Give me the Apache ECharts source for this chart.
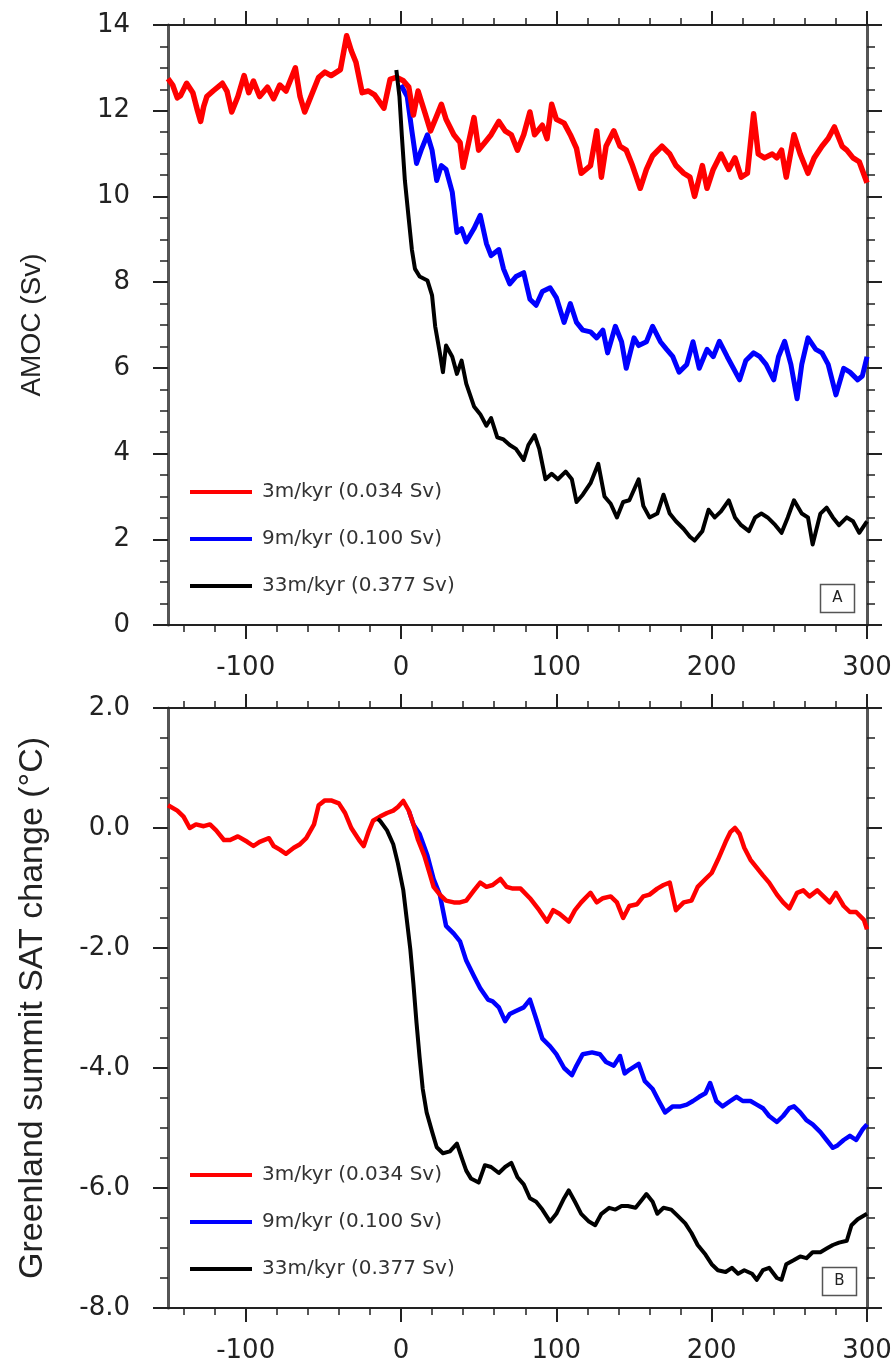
<!DOCTYPE html>
<html>
<head>
<meta charset="utf-8">
<script src="https://cdn.jsdelivr.net/npm/echarts@6/dist/echarts.min.js"></script>
<style>html,body{margin:0;padding:0;background:#fff}#c{width:896px;height:1367px}</style>
</head>
<body>
<div id="c"></div>
<script>
// ---------- data ----------
const seriesNames = ['3m/kyr (0.034 Sv)', '9m/kyr (0.100 Sv)', '33m/kyr (0.377 Sv)'];
const xMajorTicks = [-100, 0, 100, 200, 300];
const xMinorTicks = [-140,-120,-80,-60,-40,-20,20,40,60,80,120,140,160,180,220,240,260,280];

// Panel A: AMOC (Sv)  [year, value]
const amoc3 = [[-150,12.75],[-147,12.6],[-144,12.3],[-142,12.35],[-138,12.64],[-134,12.42],[-131,12.0],[-129,11.75],[-127,12.1],[-125,12.33],[-121,12.46],[-115,12.64],[-112,12.45],[-109,11.97],[-105,12.33],[-101,12.82],[-98,12.42],[-95,12.69],[-91,12.33],[-86,12.55],[-82,12.28],[-78,12.6],[-74,12.46],[-68,13.0],[-65,12.33],[-62,11.97],[-58,12.33],[-53,12.78],[-49,12.9],[-45,12.82],[-39,12.96],[-35,13.75],[-32,13.4],[-29,13.13],[-25,12.42],[-21,12.46],[-17,12.37],[-11,12.06],[-7,12.73],[-3,12.78],[1.5,12.7],[5,12.55],[8,11.9],[11,12.46],[15,12.0],[19,11.53],[23,11.88],[26,12.15],[29,11.8],[34,11.44],[38,11.26],[40,10.68],[43,11.17],[47,11.84],[50,11.08],[54,11.26],[58,11.44],[63,11.75],[67,11.53],[71,11.44],[75,11.08],[79,11.44],[83,11.97],[86,11.44],[91,11.66],[94,11.35],[97,12.15],[100,11.8],[105,11.71],[109,11.44],[113,11.12],[116,10.54],[122,10.72],[126,11.53],[129,10.45],[132,11.17],[137,11.53],[141,11.17],[145,11.08],[149,10.72],[154,10.19],[158,10.63],[162,10.95],[168,11.17],[173,10.99],[177,10.72],[182,10.54],[186,10.45],[189,10.0],[194,10.72],[197,10.19],[201,10.63],[206,10.99],[211,10.63],[215,10.9],[219,10.45],[223,10.54],[227,11.93],[230,10.99],[234,10.9],[239,10.99],[242,10.9],[245,11.08],[248,10.45],[253,11.44],[257,10.99],[262,10.54],[266,10.9],[271,11.17],[275,11.35],[279,11.62],[284,11.17],[287,11.08],[291,10.9],[295,10.81],[300,10.32]];
const amoc9 = [[0,12.6],[4,12.33],[7,11.53],[10,10.77],[13,11.08],[17,11.44],[20,11.08],[23,10.37],[26,10.72],[29,10.63],[33,10.1],[36,9.16],[39,9.25],[42,8.94],[47,9.25],[51,9.56],[55,8.9],[58,8.62],[63,8.76],[66,8.31],[70,7.96],[74,8.13],[79,8.22],[83,7.6],[87,7.46],[91,7.78],[96,7.87],[100,7.64],[105,7.06],[109,7.5],[113,7.06],[117,6.88],[122,6.84],[126,6.7],[130,6.88],[133,6.35],[138,6.97],[142,6.61],[145,5.99],[150,6.7],[153,6.52],[158,6.61],[162,6.97],[167,6.61],[171,6.43],[175,6.26],[179,5.9],[184,6.08],[188,6.61],[192,5.99],[197,6.43],[201,6.26],[205,6.62],[210,6.26],[214,5.99],[218,5.72],[222,6.17],[227,6.35],[231,6.26],[235,6.08],[240,5.72],[243,6.26],[247,6.62],[251,6.08],[255,5.28],[258,6.08],[262,6.7],[267,6.43],[271,6.35],[275,6.08],[280,5.37],[285,5.99],[289,5.9],[294,5.72],[297,5.81],[300,6.26]];
const amoc33 = [[-3,12.95],[-1,12.33],[0.5,11.44],[2.5,10.37],[5,9.47],[7,8.76],[9,8.31],[12,8.13],[17,8.04],[20,7.69],[22,6.97],[25,6.35],[27,5.9],[29,6.52],[33,6.26],[36,5.86],[39,6.17],[42,5.63],[47,5.1],[51,4.92],[55,4.65],[58,4.83],[62,4.38],[66,4.33],[70,4.2],[74,4.11],[79,3.85],[82,4.2],[86,4.43],[89,4.11],[93,3.4],[97,3.53],[101,3.4],[106,3.58],[110,3.4],[113,2.87],[117,3.04],[122,3.31],[127,3.76],[131,3.0],[135,2.83],[139,2.51],[143,2.87],[147,2.91],[153,3.4],[156,2.78],[160,2.51],[165,2.6],[169,3.04],[173,2.6],[177,2.42],[182,2.24],[186,2.06],[189,1.97],[194,2.19],[198,2.69],[202,2.51],[206,2.65],[211,2.91],[215,2.51],[219,2.33],[224,2.19],[228,2.51],[232,2.6],[236,2.51],[241,2.33],[245,2.15],[249,2.51],[253,2.91],[258,2.6],[262,2.51],[265,1.88],[270,2.6],[274,2.74],[278,2.51],[282,2.33],[287,2.51],[291,2.42],[295,2.15],[300,2.42]];

// Panel B: Greenland summit SAT change (°C)  [year, value]
const sat3 = [[-150,0.38],[-144,0.29],[-140,0.19],[-136,0.0],[-132,0.06],[-127,0.03],[-123,0.06],[-119,-0.04],[-114,-0.2],[-110,-0.2],[-105,-0.14],[-99,-0.23],[-95,-0.3],[-91,-0.23],[-85,-0.17],[-82,-0.3],[-78,-0.36],[-74,-0.43],[-69,-0.33],[-65,-0.27],[-61,-0.17],[-56,0.06],[-53,0.38],[-49,0.46],[-45,0.46],[-40,0.41],[-36,0.25],[-32,0.0],[-27,-0.2],[-24,-0.3],[-21,-0.07],[-18,0.12],[-13.5,0.19],[-9,0.25],[-5,0.29],[-2,0.35],[1.5,0.45],[5,0.29],[8,0.06],[11,-0.2],[15,-0.46],[18,-0.72],[21,-0.98],[25,-1.11],[29,-1.21],[34,-1.24],[38,-1.24],[42,-1.21],[47,-1.04],[51,-0.91],[55,-0.98],[59,-0.95],[64,-0.85],[68,-0.98],[72,-1.01],[77,-1.01],[83,-1.17],[89,-1.37],[94,-1.56],[98,-1.37],[102,-1.43],[108,-1.56],[112,-1.37],[116,-1.24],[122,-1.08],[126,-1.24],[130,-1.17],[135,-1.14],[139,-1.24],[143,-1.5],[147,-1.3],[152,-1.27],[156,-1.14],[160,-1.11],[165,-1.01],[169,-0.95],[173,-0.91],[177,-1.37],[182,-1.24],[187,-1.21],[191,-0.98],[196,-0.85],[200,-0.75],[204,-0.53],[209,-0.23],[212,-0.07],[215,0.0],[218,-0.1],[221,-0.33],[225,-0.53],[229,-0.66],[233,-0.79],[237,-0.91],[242,-1.11],[246,-1.24],[250,-1.34],[255,-1.08],[259,-1.04],[263,-1.14],[268,-1.04],[272,-1.14],[276,-1.24],[280,-1.08],[285,-1.3],[289,-1.4],[293,-1.4],[298,-1.53],[300,-1.69]];
const sat9 = [[5,0.29],[8,0.06],[12,-0.1],[17,-0.46],[21,-0.85],[25,-1.11],[29,-1.63],[34,-1.76],[38,-1.89],[42,-2.21],[47,-2.47],[51,-2.67],[56,-2.86],[59,-2.89],[63,-2.99],[67,-3.22],[70,-3.1],[74,-3.05],[79,-2.99],[83,-2.86],[87,-3.18],[91,-3.51],[96,-3.64],[100,-3.77],[105,-4.0],[110,-4.12],[113,-3.96],[117,-3.77],[123,-3.74],[128,-3.77],[132,-3.9],[137,-3.96],[141,-3.8],[144,-4.09],[147,-4.03],[153,-3.93],[157,-4.22],[162,-4.35],[166,-4.55],[170,-4.74],[175,-4.64],[180,-4.64],[184,-4.61],[188,-4.55],[192,-4.48],[196,-4.42],[199,-4.25],[203,-4.55],[207,-4.64],[212,-4.55],[216,-4.48],[220,-4.55],[225,-4.55],[229,-4.61],[233,-4.67],[237,-4.8],[242,-4.9],[246,-4.8],[250,-4.67],[253,-4.64],[257,-4.74],[261,-4.87],[265,-4.94],[270,-5.07],[274,-5.2],[278,-5.33],[281,-5.29],[285,-5.2],[289,-5.13],[293,-5.2],[297,-5.03],[300,-4.94]];
const sat33 = [[-15,0.15],[-13.5,0.12],[-9,-0.04],[-5,-0.27],[-2,-0.59],[1.5,-1.04],[3.6,-1.5],[6,-2.02],[8,-2.6],[10,-3.25],[12,-3.83],[14,-4.35],[16.5,-4.74],[20,-5.06],[23,-5.32],[27,-5.42],[31.5,-5.39],[36,-5.26],[39,-5.49],[42,-5.71],[45,-5.84],[50,-5.91],[54,-5.62],[58,-5.65],[63,-5.75],[67,-5.65],[71,-5.58],[75,-5.82],[79,-5.94],[83,-6.17],[87,-6.23],[91,-6.36],[96,-6.56],[100,-6.43],[105,-6.17],[108,-6.04],[112,-6.23],[116,-6.43],[121,-6.56],[125,-6.62],[129,-6.43],[134,-6.33],[138,-6.36],[142,-6.3],[146,-6.3],[151,-6.33],[155,-6.2],[158,-6.1],[162,-6.23],[165,-6.43],[169,-6.33],[174,-6.36],[178,-6.46],[183,-6.59],[187,-6.75],[191,-6.95],[196,-7.11],[200,-7.27],[204,-7.37],[209,-7.4],[213,-7.33],[217,-7.43],[221,-7.37],[226,-7.43],[229,-7.53],[233,-7.37],[237,-7.33],[242,-7.5],[245,-7.53],[248,-7.27],[253,-7.2],[257,-7.14],[261,-7.17],[265,-7.07],[270,-7.07],[274,-7.01],[278,-6.95],[282,-6.91],[287,-6.88],[290,-6.62],[294,-6.52],[300,-6.43]];

// ---------- styling ----------
const INK = '#222';
const tickFont = 'DejaVu Sans';
const colors = ['#ff0000', '#0000ff', '#000000'];

function xAxes(g) {
  const base = { type: 'value', gridIndex: g, min: -150, max: 300, splitLine: { show: false } };
  return [
    Object.assign({}, base, {
      position: 'bottom',
      axisLine: { show: true, onZero: false, lineStyle: { color: INK, width: 2 } },
      axisTick: { show: true, customValues: xMajorTicks, length: 14, lineStyle: { color: INK, width: 2 } },
      axisLabel: { show: true, customValues: xMajorTicks, margin: 30, color: INK, fontSize: 26, fontFamily: tickFont }
    }),
    Object.assign({}, base, {
      position: 'bottom',
      axisLine: { show: false, onZero: false },
      axisTick: { show: true, customValues: xMinorTicks, length: 7, lineStyle: { color: INK, width: 1.5 } },
      axisLabel: { show: false }
    }),
    Object.assign({}, base, {
      position: 'top',
      axisLine: { show: true, onZero: false, lineStyle: { color: INK, width: 2 } },
      axisTick: { show: true, customValues: xMajorTicks, length: 14, lineStyle: { color: INK, width: 2 } },
      axisLabel: { show: false }
    }),
    Object.assign({}, base, {
      position: 'top',
      axisLine: { show: false, onZero: false },
      axisTick: { show: true, customValues: xMinorTicks, length: 7, lineStyle: { color: INK, width: 1.5 } },
      axisLabel: { show: false }
    })
  ];
}

function yAxes(g, min, max, name, fmt, nameSize, nameGap) {
  const base = {
    type: 'value', gridIndex: g, min: min, max: max, interval: 2,
    splitLine: { show: false },
    axisTick: { show: true, length: 15, lineStyle: { color: INK, width: 2 } },
    minorTick: { show: true, splitNumber: 4, length: 8, lineStyle: { color: INK, width: 1.5 } },
    minorSplitLine: { show: false }
  };
  return [
    Object.assign({}, base, {
      position: 'left',
      axisLine: { show: true, onZero: false, lineStyle: { color: '#555', width: 3 } },
      axisLabel: { show: true, margin: 38, color: INK, fontSize: 26, fontFamily: tickFont, formatter: fmt },
      name: name, nameLocation: 'middle', nameGap: nameGap,
      nameTextStyle: { color: INK, fontSize: nameSize, fontFamily: 'Liberation Sans' }
    }),
    Object.assign({}, base, {
      position: 'right',
      axisLine: { show: true, onZero: false, lineStyle: { color: '#555', width: 3 } },
      axisLabel: { show: false }
    })
  ];
}

function lineSeries(name, data, g, color, width, z) {
  return {
    name: name, type: 'line', data: data,
    xAxisIndex: g * 4, yAxisIndex: g * 2,
    showSymbol: false, symbol: 'none', smooth: false,
    lineStyle: { color: color, width: width, join: 'round' },
    itemStyle: { color: color },
    z: z
  };
}

function legendAt(top) {
  return {
    left: 185, top: top, orient: 'vertical', icon: 'rect',
    itemWidth: 62, itemHeight: 4, itemGap: 23, selectedMode: false,
    data: seriesNames,
    textStyle: { fontFamily: tickFont, fontSize: 20, color: '#333', lineHeight: 24, padding: [0, 0, 0, 5] }
  };
}

function boxLabel(x, y, txt) {
  return {
    type: 'group', left: x, top: y,
    children: [
      { type: 'rect', shape: { x: 0, y: 0, width: 34, height: 28 }, style: { fill: 'none', stroke: '#555', lineWidth: 1.5 } },
      { type: 'text', x: 17, y: 14, style: { text: txt, fill: INK, font: '15px "DejaVu Sans"', align: 'center', verticalAlign: 'middle' } }
    ]
  };
}

const chart = echarts.init(document.getElementById('c'), null, { renderer: 'canvas' });
chart.setOption({
  animation: false,
  backgroundColor: '#fff',
  grid: [
    { left: 168, top: 25, width: 699, height: 600 },
    { left: 168, top: 708, width: 699, height: 600 }
  ],
  xAxis: xAxes(0).concat(xAxes(1)),
  yAxis: yAxes(0, 0, 14, 'AMOC (Sv)', function (v) { return String(v); }, 28, 122)
    .concat(yAxes(1, -8, 2, 'Greenland summit SAT change (°C)', function (v) { return v.toFixed(1); }, 34, 118)),
  legend: [legendAt(475), legendAt(1158)],
  series: [
    lineSeries(seriesNames[1], amoc9, 0, colors[1], 5, 2),
    lineSeries(seriesNames[0], amoc3, 0, colors[0], 5.5, 3),
    lineSeries(seriesNames[2], amoc33, 0, colors[2], 4, 4),
    lineSeries(seriesNames[1], sat9, 1, colors[1], 4.5, 2),
    lineSeries(seriesNames[0], sat3, 1, colors[0], 4.5, 3),
    lineSeries(seriesNames[2], sat33, 1, colors[2], 4, 4)
  ],
  graphic: [boxLabel(818, 582, 'A'), boxLabel(820, 1265, 'B')]
});
</script>
</body>
</html>
